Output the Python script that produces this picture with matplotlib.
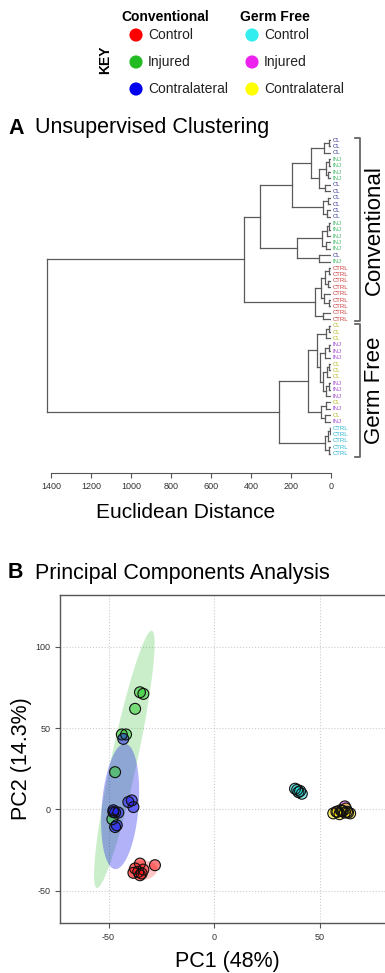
import numpy as np
import matplotlib
matplotlib.use("Agg")
import matplotlib.pyplot as plt

plt.rcParams['font.family'] = ['Liberation Sans', 'DejaVu Sans']
plt.rcParams['axes.unicode_minus'] = False

W, H = 385, 973

# ---------------- data ----------------
group_names = ["Control", "Injured", "Contralateral"]
conv_colors = ["#ff0000", "#22bb22", "#0000ee"]
gf_colors = ["#33eeee", "#ee22ee", "#ffff00"]

# dendrogram leaves, top to bottom
conv_leaves = ["CL", "CL", "CL", "INJ", "INJ", "INJ", "INJ", "CL", "CL",
               "CL", "CL", "CL", "CL", "INJ", "INJ", "INJ", "INJ", "INJ",
               "CL", "INJ", "CTRL", "CTRL", "CTRL", "CTRL", "CTRL", "CTRL",
               "CTRL", "CTRL", "CTRL"]
gf_leaves = ["CL", "CL", "CL", "INJ", "INJ", "INJ", "CL", "CL", "CL",
             "INJ", "INJ", "INJ", "CL", "INJ", "CL", "INJ",
             "CTRL", "CTRL", "CTRL", "CTRL", "CTRL"]
conv_label_colors = {"CL": "#3a3a96", "INJ": "#45b86a", "CTRL": "#cc3a3a"}
gf_label_colors = {"CL": "#b8b825", "INJ": "#a64dcc", "CTRL": "#2ab4d4"}

# merge tree: (height, left, right), leaves are indices
conv_tree = (435,
             (355,
              (195,
               (100,
                (35, (12, 0, 1), 2),
                (60, (25, (10, 3, 4), (15, 5, 6)), (30, 7, 8))),
               (40, (15, 9, 10), (20, 11, 12))),
              (170,
               (45, (20, (8, 13, 14), 15), (25, 16, 17)),
               (60, 18, 19))),
             (80,
              (50, (30, (10, 20, 21), (15, 22, 23)), (35, 24, (12, 25, 26))),
              (40, 27, 28)))
gf_tree = (260,
           (115,
            (70,
             (25, (8, 29, 30), 31),
             (55, (30, (10, 32, 33), 34),
              (40, (20, (8, 35, 36), 37), (25, (10, 38, 39), 40)))),
            (50, (25, 41, 42), (30, 43, 44))),
           (30, (15, (6, 45, 46), 47), (12, 48, 49)))
root_height = 1420
dist_ticks = [1400, 1200, 1000, 800, 600, 400, 200, 0]

# PCA scores
conv_ctrl_pc1 = [-35.1, -28.0, -37.4, -33.5, -38.2, -35.1, -34.3, -35.9]
conv_ctrl_pc2 = [-33.4, -34.4, -36.4, -37.1, -39.1, -40.6, -39.5, -38.5]
conv_inj_pc1 = [-35.1, -33.5, -37.4, -43.7, -41.7, -46.9, -48.2]
conv_inj_pc2 = [72.1, 71.1, 61.9, 46.1, 46.1, 22.9, -6.1]
conv_cl_pc1 = [-43.0, -40.6, -39.0, -38.2, -47.7, -46.9, -45.4, -46.1, -46.9, -47.7]
conv_cl_pc2 = [43.4, 4.5, 5.5, 1.4, -0.6, -2.0, -2.0, -9.8, -10.9, -1.7]
gf_ctrl_pc1 = [38.4, 40.0, 41.6, 40.8, 39.4]
gf_ctrl_pc2 = [12.7, 10.6, 9.6, 11.3, 12.0]
gf_inj_pc1 = [62.0, 60.5, 63.5, 58.5]
gf_inj_pc2 = [1.8, -1.0, -2.0, -1.5]
gf_cl_pc1 = [56.5, 58.0, 59.5, 60.0, 61.0, 62.0, 63.0, 64.5, 62.5]
gf_cl_pc2 = [-2.5, -1.5, -3.0, -0.5, -1.0, -2.0, -1.5, -2.5, 0.5]

# confidence ellipses: centre, major semi-axis vector, minor semi-axis vector
ell_colors = ["#ff0000", "#22bb22", "#0000ee", "#33dddd", "#ee22ee", "#eecc00"]
ell_alpha = [0.22, 0.24, 0.3, 0.22, 0.22, 0.22]
ell_cx = [-34.0, -42.5, -44.5, 40.2, 61.0, 60.5]
ell_cy = [-37.5, 30.8, 1.8, 11.0, -1.0, -1.5]
ell_u = [(7.0, 0.5), (13.05, 79.2), (2.3, 38.6), (2.4, 2.2), (4.0, 0.5), (6.0, 0.0)]
ell_v = [(0.0, 6.0), (6.0, -1.7), (8.7, -0.5), (1.0, -1.2), (0.0, 2.0), (0.0, 2.8)]


def px_axes(left, top, right, bottom):
    return [left / W, 1 - bottom / H, (right - left) / W, (bottom - top) / H]


fig = plt.figure(figsize=(W / 100, H / 100), dpi=100)

# ---------------- key ----------------
axk = fig.add_axes([0, 0, 1, 1])
axk.set_xlim(0, W)
axk.set_ylim(H, 0)
axk.axis('off')
axk.text(165, 17, "Conventional", ha='center', va='center', fontsize=10, fontweight='bold')
axk.text(275, 17, "Germ Free", ha='center', va='center', fontsize=10, fontweight='bold')
axk.text(105, 60, "KEY", ha='center', va='center', fontsize=10, fontweight='bold', rotation=90)
for k, name in enumerate(group_names):
    yy = 35 + 27 * k
    axk.scatter([136], [yy], s=90, color=conv_colors[k], edgecolor='none')
    axk.text(148, yy, name, va='center', fontsize=10, color='#222222')
    axk.scatter([252], [yy], s=90, color=gf_colors[k], edgecolor='none')
    axk.text(264, yy, name, va='center', fontsize=10, color='#222222')

# ---------------- A: dendrogram ----------------
fig.text(8 / W, 1 - 128 / H, "A", fontsize=15.5, fontweight='bold', va='center')
fig.text(35 / W, 1 - 128 / H, "Unsupervised Clustering", fontsize=15.5, va='center')

axd = fig.add_axes(px_axes(40, 133.6, 331, 460))
axd.set_xlim(1455, 0)
axd.set_ylim(50, -1)

lc = '#5a5a5a'


def draw(node):
    if not isinstance(node, tuple):
        return node, 0
    h, left, right = node
    yl, hl = draw(left)
    yr, hr = draw(right)
    axd.plot([hl, h], [yl, yl], color=lc, lw=0.9)
    axd.plot([hr, h], [yr, yr], color=lc, lw=0.9)
    axd.plot([h, h], [yl, yr], color=lc, lw=0.9)
    return (yl + yr) / 2, h


draw((root_height, conv_tree, gf_tree))

leaves = conv_leaves + gf_leaves
for i, lab in enumerate(leaves):
    col = conv_label_colors[lab] if i < len(conv_leaves) else gf_label_colors[lab]
    axd.text(-8, i, lab, fontsize=4.3, color=col, va='center', ha='left', clip_on=False)

# brackets
n_conv = len(conv_leaves)
for (y0, y1, name) in [(-0.3, n_conv - 1 + 0.3, "Conventional"),
                       (n_conv - 0.3, len(leaves) - 1 + 0.5, "Germ Free")]:
    axd.plot([-120, -145, -145, -120], [y0, y0, y1, y1], color='#666666', lw=1.3,
             clip_on=False)
    axd.text(-215, (y0 + y1) / 2, name, rotation=90, ha='center', va='center',
             fontsize=16, clip_on=False)

for s in ['top', 'right', 'left']:
    axd.spines[s].set_visible(False)
axd.spines['bottom'].set_position(('outward', 9))
axd.spines['bottom'].set_bounds(1400, 0)
axd.spines['bottom'].set_color('#555555')
axd.set_yticks([])
axd.set_xticks(dist_ticks)
axd.set_xticklabels([str(t) for t in dist_ticks])
axd.tick_params(axis='x', direction='out', length=3.5, width=0.8, color='#555555',
                labelsize=6.5, labelcolor='#333333', pad=3)
axd.set_xlabel("Euclidean Distance", fontsize=15, labelpad=9)

# ---------------- B: PCA ----------------
fig.text(8 / W, 1 - 573 / H, "B", fontsize=15.5, fontweight='bold', va='center')
fig.text(35 / W, 1 - 573 / H, "Principal Components Analysis", fontsize=15.5, va='center')

axp = fig.add_axes(px_axes(60, 595, 395.5, 923))
axp.set_xlim(-73, 86)
axp.set_ylim(-70, 132)

t = np.linspace(0, 2 * np.pi, 200)
for k in range(len(ell_cx)):
    ux, uy = ell_u[k]
    vx, vy = ell_v[k]
    ex = ell_cx[k] + np.cos(t) * ux + np.sin(t) * vx
    ey = ell_cy[k] + np.cos(t) * uy + np.sin(t) * vy
    axp.fill(ex, ey, color=ell_colors[k], alpha=ell_alpha[k], lw=0, zorder=1)

groups = [
    (conv_inj_pc1, conv_inj_pc2, "#33cc33"),
    (conv_cl_pc1, conv_cl_pc2, "#2222ee"),
    (conv_ctrl_pc1, conv_ctrl_pc2, "#ff1111"),
    (gf_ctrl_pc1, gf_ctrl_pc2, "#22dddd"),
    (gf_inj_pc1, gf_inj_pc2, "#dd33dd"),
    (gf_cl_pc1, gf_cl_pc2, "#eedd00"),
]
for xs, ys, col in groups:
    axp.scatter(xs, ys, s=62, color=col, alpha=0.55, edgecolor='none', zorder=3)
    axp.scatter(xs, ys, s=62, facecolor='none', edgecolor='#111111', lw=0.8, zorder=4)

axp.set_xticks([-50, 0, 50])
axp.set_yticks([-50, 0, 50, 100])
axp.grid(True, ls=':', color='#cccccc', lw=0.8, zorder=0)
axp.set_axisbelow(True)
for s in axp.spines.values():
    s.set_color('#555555')
    s.set_linewidth(1.0)
axp.tick_params(direction='out', length=3.5, width=0.8, color='#555555',
                labelsize=6.5, labelcolor='#333333')
axp.set_xlabel("PC1 (48%)", fontsize=15.5, labelpad=7)
axp.set_ylabel("PC2 (14.3%)", fontsize=15.5, labelpad=2)

fig.savefig("out.png", dpi=100)
